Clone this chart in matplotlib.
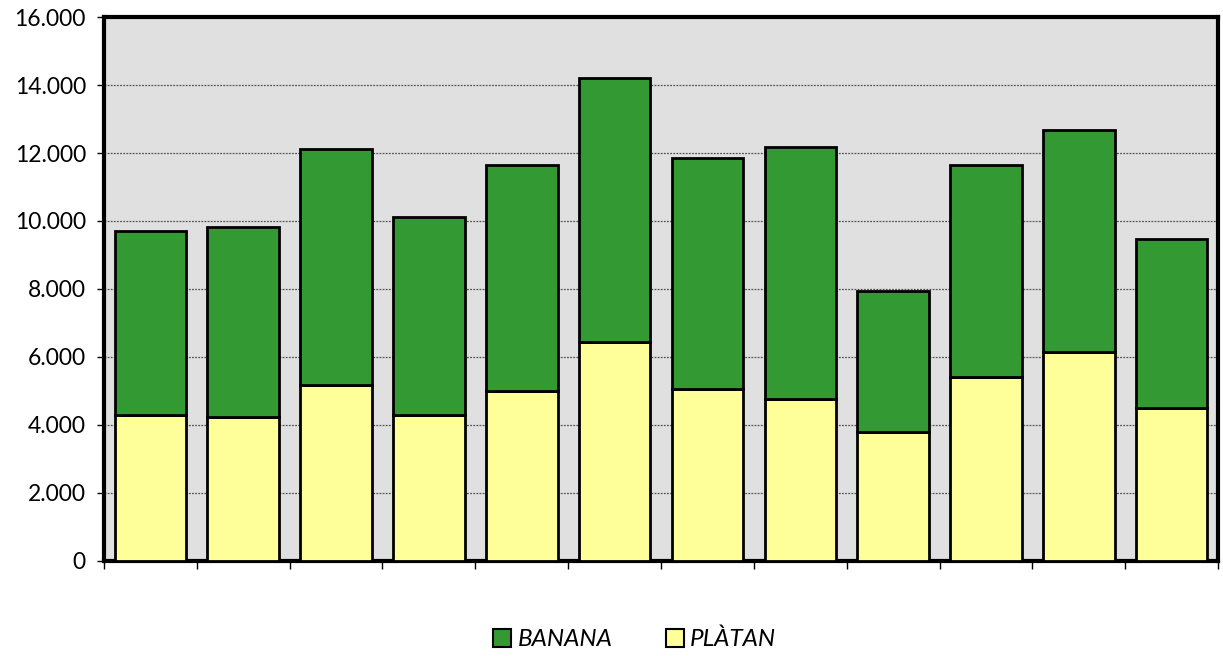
import matplotlib.pyplot as plt
import matplotlib.ticker as ticker
import numpy as np

plt.rcParams['font.family'] = ['Lato', 'DejaVu Sans']

# values (12 bars, no category labels)
platan = [4300, 4240, 5180, 4290, 5000, 6440, 5060, 4770, 3790, 5410, 6140, 4500]
total = [9710, 9820, 12120, 10120, 11650, 14210, 11850, 12180, 7940, 11650, 12670, 9470]
banana = [t - p for t, p in zip(total, platan)]

x = np.arange(len(platan))

fig = plt.figure(figsize=(12.23, 6.56), dpi=100)
ax = fig.add_axes([0.085, 0.145, 0.911, 0.829])
ax.set_facecolor('#E0E0E0')

ax.bar(x, platan, width=0.77, color='#FFFF99', edgecolor='black', linewidth=2,
       label='PLÀTAN', zorder=3)
ax.bar(x, banana, width=0.77, bottom=platan, color='#339933', edgecolor='black',
       linewidth=2, label='BANANA', zorder=3)

ax.set_xlim(-0.5, len(platan) - 0.5)
ax.set_ylim(0, 16000)
ax.set_xticks(np.arange(-0.5, len(platan)))
ax.set_xticklabels([])
ax.set_yticks(np.arange(0, 16001, 2000))
ax.yaxis.set_major_formatter(ticker.FuncFormatter(lambda v, p: f'{int(v):,}'.replace(',', '.')))
ax.tick_params(axis='y', labelsize=16.5, length=5, width=1, direction='out', pad=8)
ax.tick_params(axis='x', length=6, width=1, direction='out')

ax.grid(axis='y', color='#555555', linestyle=(0, (1.5, 1)), linewidth=0.9, zorder=1)
for s in ax.spines.values():
    s.set_linewidth(3)

handles, labels = ax.get_legend_handles_labels()
leg = fig.legend(handles[::-1], labels[::-1], loc='center', bbox_to_anchor=(0.519, 0.025),
                 ncol=2, frameon=False, prop={'style': 'italic', 'size': 17.5},
                 handlelength=0.75, handleheight=0.75, handletextpad=0.25, columnspacing=2.2)
for h in leg.legend_handles:
    h.set_linewidth(1.5)

fig.savefig('out.png', dpi=100)
